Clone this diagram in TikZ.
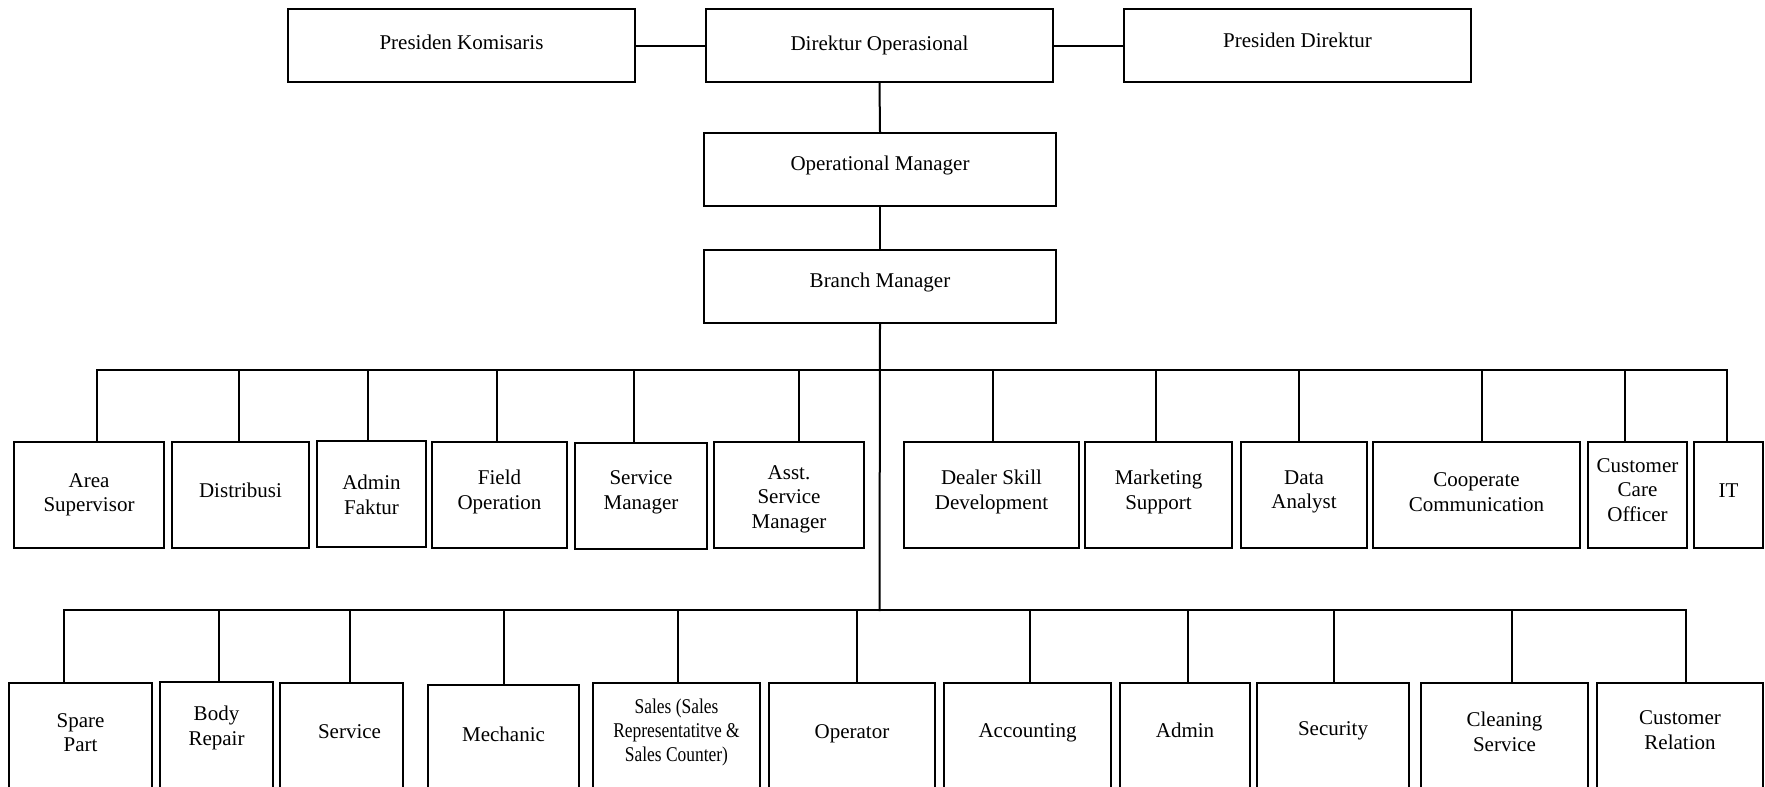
\documentclass[tikz,border=0pt]{standalone}
\usepackage{fontspec}
\setmainfont{Liberation Serif}
\newfontfamily\condensedserif[FakeStretch=0.83]{Liberation Serif}
\tikzset{
  box/.style={draw, line width=2pt, inner sep=0pt, rectangle},
  lbl/.style={inner sep=0pt, align=center, font=\fontsize{21}{24.5}\selectfont},
  conn/.style={line width=2pt, line cap=rect},
}
% name, x1, y1, x2, y2, text, text centre y, extra label options
\newcommand\orgbox[8]{%
  \node[box, minimum width={#4-#2}, minimum height={#5-#3}] (#1) at ({(#2+#4)/2},{(#3+#5)/2}) {};
  \node[lbl,#8] (#1t) at ({(#2+#4)/2},#7) {#6};
}
\begin{document}
\begin{tikzpicture}[x=1pt,y=-1pt]
\useasboundingbox (0,0) rectangle (1765,787);
\clip (0,0) rectangle (1765,787);
\fill[white] (0,0) rectangle (1765,787);

% top
\orgbox{pk}{288}{9}{635}{82}{Presiden Komisaris}{42.5}{}
\orgbox{do}{706}{9}{1053}{82}{Direktur Operasional}{45}{}
\orgbox{pd}{1124}{9}{1471}{82}{Presiden Direktur}{40}{}
\orgbox{om}{704}{133}{1056}{206}{Operational Manager}{165}{}
\orgbox{bm}{704}{250}{1056}{323}{Branch Manager}{282.5}{}

% row 1
\orgbox{as}{14}{442}{164}{548}{Area\\Supervisor}{495}{}
\orgbox{di}{172}{442}{309}{548}{Distribusi}{490}{}
\orgbox{af}{317}{441}{426}{547}{Admin\\Faktur}{495}{}
\orgbox{fo}{432}{442}{567}{548}{Field\\Operation}{492}{}
\orgbox{sm}{575}{443}{707}{549}{Service\\Manager}{492.5}{}
\orgbox{asm}{714}{442}{864}{548}{Asst.\\Service\\Manager}{499}{}
\orgbox{dsd}{904}{442}{1079}{548}{Dealer Skill\\Development}{492}{}
\orgbox{ms}{1085}{442}{1232}{548}{Marketing\\Support}{492}{}
\orgbox{da}{1241}{442}{1367}{548}{Data\\Analyst}{492}{}
\orgbox{cc}{1373}{442}{1580}{548}{Cooperate\\Communication}{492}{}
\orgbox{cco}{1588}{442}{1687}{548}{Customer\\Care\\Officer}{490}{}
\orgbox{it}{1694}{442}{1763}{548}{IT}{491}{}

% row 2
\orgbox{sp}{9}{683}{152}{800}{Spare\\Part}{732.5}{}
\orgbox{br}{160}{682}{273}{800}{Body\\Repair}{728}{}
\orgbox{sv}{280}{683}{403}{800}{Service}{731.5}{xshift=8pt}
\orgbox{me}{428}{685}{579}{800}{Mechanic}{734.5}{}
\orgbox{sa}{593}{683}{760}{800}{Sales (Sales\\Representatitve \&\\Sales Counter)}{732.5}{font=\condensedserif\fontsize{21}{24}\selectfont}
\orgbox{op}{769}{683}{935}{800}{Operator}{733.5}{}
\orgbox{ac}{944}{683}{1111}{800}{Accounting}{733}{}
\orgbox{ad}{1120}{683}{1250}{800}{Admin}{730}{}
\orgbox{se}{1257}{683}{1409}{800}{Security}{731}{}
\orgbox{cs}{1421}{683}{1588}{800}{Cleaning\\Service}{732}{}
\orgbox{cr}{1597}{683}{1763}{800}{Customer\\Relation}{730}{}

% top connectors
\draw[conn] (pk.east) -- (do.west);
\draw[conn] (do.east) -- (pd.west);
\draw[conn] (do.south) -- (om.north);
\draw[conn] (om.south) -- (bm.north);
\coordinate (j2) at (879.5,610);
\draw[conn] (bm.south) -- (j2);

% upper bus
\coordinate (u1) at (96.5,369.5);
\coordinate (u2) at (1726.5,369.5);
\draw[conn] (u1) -- (u2);
\foreach \n/\x in {as/96.5, di/239, af/368, fo/497, sm/634, asm/799, dsd/993, ms/1156, da/1299, cc/1482, cco/1625, it/1726.5}{
  \coordinate (t\n) at (\x,369.5);
  \draw[conn] (t\n) -- (t\n |- \n.north);
}

% lower bus
\coordinate (l1) at (64.3,610);
\coordinate (l2) at (1686,610);
\draw[conn] (l1) -- (l2);
\foreach \n/\x in {sp/64.3, br/219, sv/349.6, me/504, sa/678, op/856.5, ac/1029.5, ad/1187.6, se/1333.7, cs/1512, cr/1686}{
  \coordinate (b\n) at (\x,610);
  \draw[conn] (b\n) -- (b\n |- \n.north);
}
\end{tikzpicture}
\end{document}
